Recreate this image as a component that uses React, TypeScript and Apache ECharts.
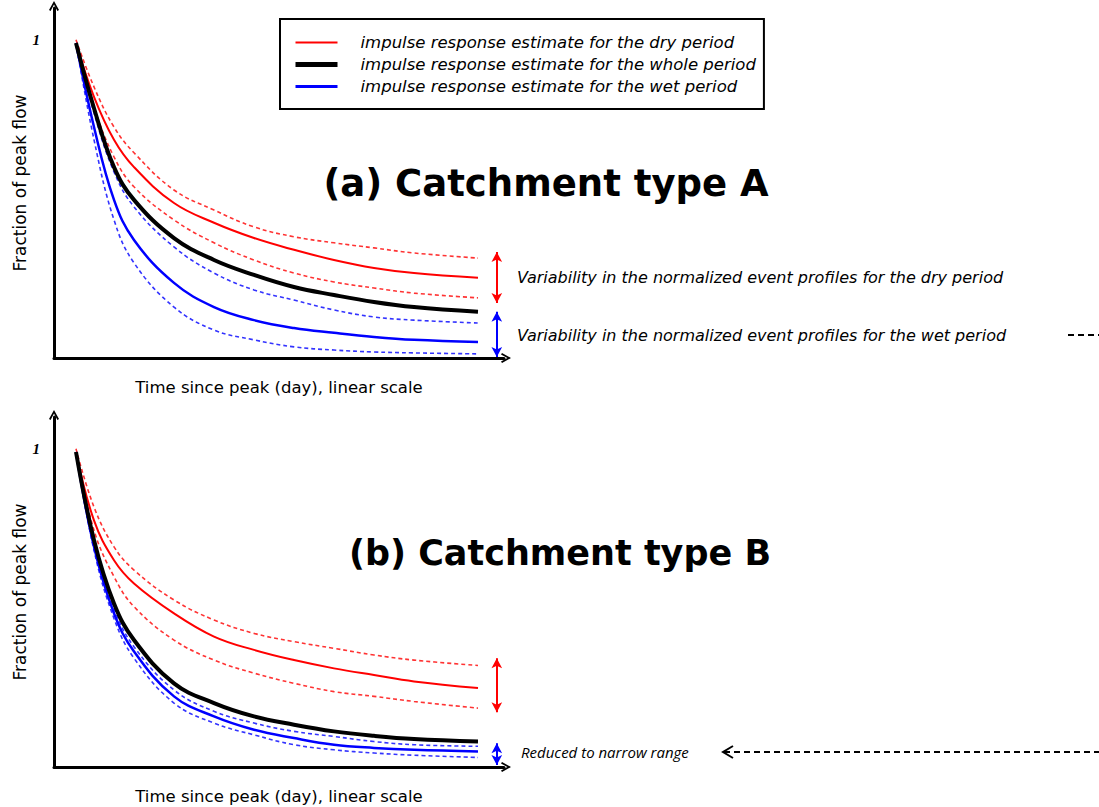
import React, { useEffect, useRef } from "react";
import * as echarts from "echarts";

const X_DAYS = [0.55, 1, 1.5, 2, 3, 4, 5, 6, 7, 8, 9, 10.6];

const A_DRY_HIGH = [1.0, 0.852, 0.726, 0.645, 0.528, 0.465, 0.412, 0.381, 0.362, 0.346, 0.33, 0.314];
const A_DRY = [0.99, 0.821, 0.686, 0.6, 0.487, 0.425, 0.377, 0.34, 0.308, 0.283, 0.267, 0.252];
const A_DRY_LOW = [0.99, 0.789, 0.632, 0.538, 0.434, 0.362, 0.308, 0.267, 0.239, 0.22, 0.204, 0.189];
const A_WHOLE = [0.99, 0.785, 0.6, 0.497, 0.377, 0.308, 0.261, 0.223, 0.198, 0.176, 0.16, 0.145];
const A_WET_HIGH = [0.99, 0.77, 0.585, 0.475, 0.349, 0.267, 0.214, 0.182, 0.151, 0.129, 0.119, 0.11];
const A_WET = [0.99, 0.726, 0.497, 0.371, 0.236, 0.16, 0.119, 0.094, 0.079, 0.066, 0.057, 0.05];
const A_WET_LOW = [0.99, 0.686, 0.434, 0.299, 0.16, 0.088, 0.057, 0.035, 0.025, 0.019, 0.016, 0.013];

const B_DRY_HIGH = [1.0, 0.817, 0.692, 0.619, 0.525, 0.462, 0.42, 0.394, 0.373, 0.352, 0.336, 0.319];
const B_DRY = [0.99, 0.775, 0.65, 0.577, 0.483, 0.41, 0.368, 0.336, 0.31, 0.289, 0.269, 0.248];
const B_DRY_LOW = [0.99, 0.744, 0.598, 0.504, 0.399, 0.336, 0.295, 0.263, 0.237, 0.222, 0.206, 0.185];
const B_WHOLE = [0.99, 0.713, 0.514, 0.399, 0.263, 0.201, 0.159, 0.133, 0.112, 0.098, 0.088, 0.08];
const B_WET_HIGH = [0.99, 0.702, 0.498, 0.378, 0.242, 0.175, 0.138, 0.112, 0.096, 0.08, 0.07, 0.065];
const B_WET = [0.99, 0.692, 0.483, 0.363, 0.222, 0.159, 0.117, 0.091, 0.07, 0.06, 0.054, 0.049];
const B_WET_LOW = [0.99, 0.681, 0.467, 0.342, 0.201, 0.138, 0.101, 0.07, 0.054, 0.044, 0.037, 0.03];

const ARROW_X = 11.07;
const A_DRY_RANGE = [0.333, 0.173];
const A_WET_RANGE = [0.145, 0.003];
const B_DRY_RANGE = [0.342, 0.172];
const B_WET_RANGE = [0.075, 0.006];

const NAME_DRY = "impulse response estimate for the dry period";
const NAME_WHOLE = "impulse response estimate for the whole period";
const NAME_WET = "impulse response estimate for the wet period";

const RED = "#ff0000";
const BLUE = "#0000ff";
const BLACK = "#000000";

const CHEVRON = "path://M5,0 L10,9 L8.4,10 L5,3.6 L1.6,10 L0,9 Z";

const toData = (arr: number[]) => X_DAYS.map((x, i) => [x, arr[i]]);

function solid(name: string, arr: number[], color: string, width: number, idx: number, z: number) {
  return {
    type: "line",
    name,
    xAxisIndex: idx,
    yAxisIndex: idx,
    data: toData(arr),
    smooth: 0.4,
    showSymbol: false,
    symbol: "none",
    z,
    lineStyle: { color, width, type: "solid" },
    itemStyle: { color },
  };
}

function dashed(name: string, arr: number[], color: string, idx: number) {
  return {
    type: "line",
    name,
    xAxisIndex: idx,
    yAxisIndex: idx,
    data: toData(arr),
    smooth: 0.4,
    showSymbol: false,
    symbol: "none",
    z: 2,
    lineStyle: { color, width: 1.6, type: [4, 3], opacity: 0.8 },
    itemStyle: { color },
  };
}

function arrowLine(name: string, range: number[], color: string, idx: number) {
  return {
    type: "line",
    name,
    xAxisIndex: idx,
    yAxisIndex: idx,
    data: [],
    showSymbol: false,
    markLine: {
      silent: true,
      animation: false,
      symbol: ["arrow", "arrow"],
      symbolSize: [8, 10],
      label: { show: false },
      lineStyle: { color, width: 2, type: "solid" },
      data: [[{ coord: [ARROW_X, range[0]] }, { coord: [ARROW_X, range[1]] }]],
    },
  };
}

function xAxis(idx: number) {
  return {
    type: "value",
    gridIndex: idx,
    min: 0,
    max: 11.25,
    name: "Time since peak (day), linear scale",
    nameLocation: "middle",
    nameGap: 21,
    nameTextStyle: { fontFamily: "DejaVu Sans", fontSize: 16.5, color: "#000" },
    axisLine: {
      show: true,
      lineStyle: { color: "#000", width: 3 },
      symbol: ["none", CHEVRON],
      symbolSize: [11, 10],
      symbolOffset: [0, 2],
    },
    axisTick: { show: false },
    axisLabel: { show: false },
    splitLine: { show: false },
  };
}

function yAxis(idx: number) {
  return {
    type: "value",
    gridIndex: idx,
    min: 0,
    max: 1.1,
    interval: 1,
    name: "Fraction of peak flow",
    nameLocation: "middle",
    nameGap: 25,
    nameRotate: 90,
    nameTextStyle: { fontFamily: "DejaVu Sans", fontSize: 17, color: "#000" },
    axisLine: {
      show: true,
      onZero: false,
      lineStyle: { color: "#000", width: 3 },
      symbol: ["none", CHEVRON],
      symbolSize: [11, 10],
      symbolOffset: [0, 2],
    },
    axisTick: { show: false },
    axisLabel: {
      show: true,
      margin: 14,
      formatter: (v: number) => (v === 1 ? "1" : ""),
      fontFamily: "Liberation Serif",
      fontStyle: "italic",
      fontWeight: "bold",
      fontSize: 15,
      color: "#000",
    },
    splitLine: { show: false },
  };
}

const annotationFont = {
  fontFamily: "DejaVu Sans",
  fontStyle: "italic",
  fontSize: 16,
  fill: "#000",
};

export default function App() {
  const ref = useRef<HTMLDivElement>(null);
  useEffect(() => {
    if (!ref.current) return;
    const chart = echarts.init(ref.current, null, { renderer: "svg" });
    chart.setOption({
      animation: false,
      backgroundColor: "#ffffff",
      grid: [
        { left: 54, top: 8, width: 450, height: 350 },
        { left: 54, top: 417, width: 450, height: 350 },
      ],
      xAxis: [xAxis(0), xAxis(1)],
      yAxis: [yAxis(0), yAxis(1)],
      legend: {
        orient: "vertical",
        left: 280,
        top: 19,
        data: [
          { name: NAME_DRY, lineStyle: { width: 2 } },
          { name: NAME_WHOLE, lineStyle: { width: 5 } },
          { name: NAME_WET, lineStyle: { width: 3 } },
        ],
        itemWidth: 42,
        itemHeight: 14,
        itemGap: 5,
        itemStyle: { opacity: 0 },
        padding: [15, 8, 14, 13],
        borderColor: "#000",
        borderWidth: 2,
        selectedMode: false,
        textStyle: {
          fontFamily: "DejaVu Sans",
          fontStyle: "italic",
          fontSize: 16.5,
          color: "#000",
          padding: [0, 0, 0, 18],
        },
      },
      series: [
        dashed("A dry upper", A_DRY_HIGH, RED, 0),
        dashed("A dry lower", A_DRY_LOW, RED, 0),
        dashed("A wet upper", A_WET_HIGH, BLUE, 0),
        dashed("A wet lower", A_WET_LOW, BLUE, 0),
        solid(NAME_DRY, A_DRY, RED, 2, 0, 3),
        solid(NAME_WET, A_WET, BLUE, 2.5, 0, 3),
        solid(NAME_WHOLE, A_WHOLE, BLACK, 4, 0, 4),
        arrowLine("A dry arrow", A_DRY_RANGE, RED, 0),
        arrowLine("A wet arrow", A_WET_RANGE, BLUE, 0),
        dashed("B dry upper", B_DRY_HIGH, RED, 1),
        dashed("B dry lower", B_DRY_LOW, RED, 1),
        dashed("B wet upper", B_WET_HIGH, BLUE, 1),
        dashed("B wet lower", B_WET_LOW, BLUE, 1),
        solid(NAME_DRY, B_DRY, RED, 2, 1, 3),
        solid(NAME_WET, B_WET, BLUE, 2.5, 1, 3),
        solid(NAME_WHOLE, B_WHOLE, BLACK, 4, 1, 4),
        arrowLine("B dry arrow", B_DRY_RANGE, RED, 1),
        arrowLine("B wet arrow", B_WET_RANGE, BLUE, 1),
      ],
      graphic: [
        {
          type: "text",
          x: 546,
          y: 183,
          style: {
            text: "(a) Catchment type A",
            fontFamily: "DejaVu Sans",
            fontWeight: "bold",
            fontSize: 37,
            fill: "#000",
            align: "center",
            verticalAlign: "middle",
          },
        },
        {
          type: "text",
          x: 560,
          y: 553,
          style: {
            text: "(b) Catchment type B",
            fontFamily: "DejaVu Sans",
            fontWeight: "bold",
            fontSize: 35,
            fill: "#000",
            align: "center",
            verticalAlign: "middle",
          },
        },
        {
          type: "text",
          x: 517,
          y: 277,
          style: {
            ...annotationFont,
            text: "Variability in the normalized event profiles for the dry period",
            verticalAlign: "middle",
          },
        },
        {
          type: "text",
          x: 517,
          y: 335,
          style: {
            ...annotationFont,
            text: "Variability in the normalized event profiles for the wet period",
            verticalAlign: "middle",
          },
        },
        {
          type: "text",
          x: 521,
          y: 752,
          style: {
            ...annotationFont,
            fontFamily: "Open Sans",
            fontSize: 15,
            text: "Reduced to narrow range",
            verticalAlign: "middle",
          },
        },
        {
          type: "line",
          shape: { x1: 1068, y1: 335, x2: 1099, y2: 335 },
          style: { stroke: "#000", lineWidth: 2, lineDash: [6, 4] },
        },
        {
          type: "line",
          shape: { x1: 724, y1: 752, x2: 1099, y2: 752 },
          style: { stroke: "#000", lineWidth: 2, lineDash: [6, 4] },
        },
        {
          type: "polyline",
          shape: { points: [[733, 746], [723, 752], [733, 758]] },
          style: { stroke: "#000", lineWidth: 2, fill: "none" },
        },
      ],
    });
    return () => chart.dispose();
  }, []);
  return (
    <div
      ref={ref}
      style={{ position: "absolute", left: 0, top: 0, width: 1099, height: 807 }}
    />
  );
}
